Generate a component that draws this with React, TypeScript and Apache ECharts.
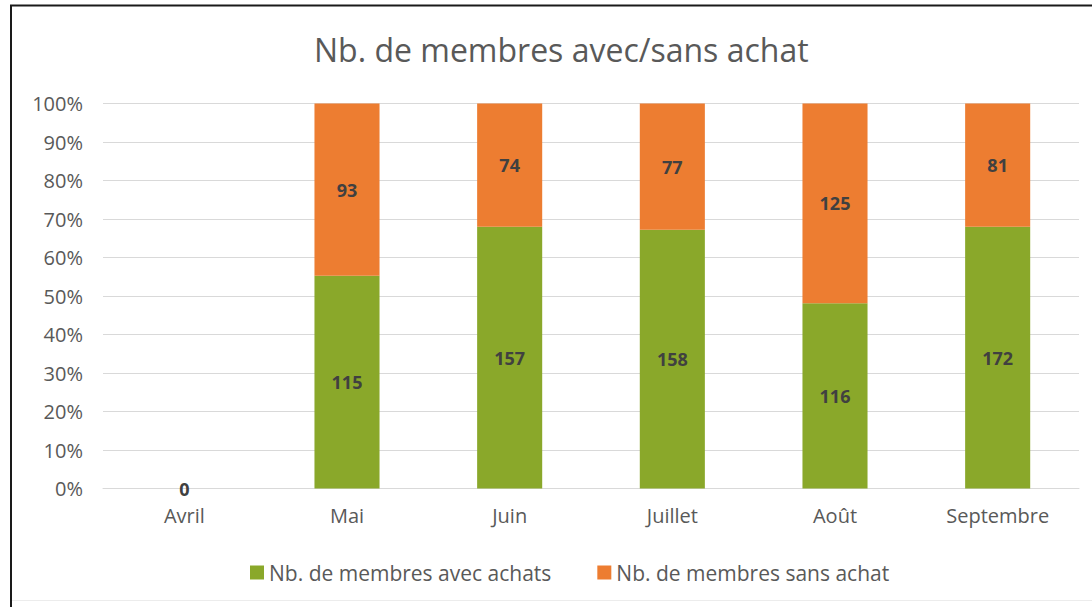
import React, { useEffect, useRef } from "react";
import * as echarts from "echarts";

const categories = ["Avril", "Mai", "Juin", "Juillet", "Août", "Septembre"];
const avecAchats = [0, 115, 157, 158, 116, 172];
const sansAchat = [0, 93, 74, 77, 125, 81];
const seriesNames = ["Nb. de membres avec achats", "Nb. de membres sans achat"];
const yTicks = [0, 10, 20, 30, 40, 50, 60, 70, 80, 90, 100];

const FONT = "'Open Sans', sans-serif";
const TEXT = "#595959";

export default function App() {
  const ref = useRef<HTMLDivElement>(null);
  useEffect(() => {
    document.body.style.margin = "0";
    if (!ref.current) return;
    const chart = echarts.init(ref.current, null, { renderer: "svg" });
    const totals = avecAchats.map((v, i) => v + sansAchat[i]);
    const pct = (arr: number[]) =>
      arr.map((v, i) => (totals[i] === 0 ? 0 : (v / totals[i]) * 100));
    const labelFor = (raw: number[], showZero: boolean) => ({
      show: true,
      position: "inside" as const,
      color: "#404040",
      fontWeight: "bold" as const,
      fontFamily: FONT,
      fontSize: 18,
      formatter: (p: any) => {
        const v = raw[p.dataIndex];
        if (v === 0 && !showZero) return "";
        return String(v);
      },
    });
    chart.setOption({
      animation: false,
      backgroundColor: "#ffffff",
      title: {
        text: "Nb. de membres avec/sans achat",
        left: 309,
        top: 28,
        textStyle: { fontFamily: FONT, fontSize: 32, fontWeight: "normal", color: TEXT },
      },
      legend: {
        bottom: 19,
        left: 245,
        itemWidth: 14,
        itemHeight: 14,
        itemGap: 46,
        itemTextGap: 4,
        icon: "rect",
        textStyle: { fontFamily: FONT, fontSize: 21, color: TEXT },
        data: seriesNames,
      },
      grid: { left: 103, right: 13, top: 103.5, bottom: 118.5, containLabel: false },
      xAxis: {
        type: "category",
        data: categories,
        axisLine: { lineStyle: { color: "#d9d9d9" } },
        axisTick: { show: false },
        axisLabel: { fontFamily: FONT, fontSize: 20, color: TEXT, margin: 17 },
      },
      yAxis: {
        type: "value",
        min: yTicks[0],
        max: yTicks[yTicks.length - 1],
        interval: 10,
        axisLine: { show: false },
        axisTick: { show: false },
        splitLine: { lineStyle: { color: "#d9d9d9" } },
        axisLabel: { fontFamily: FONT, fontSize: 20, color: TEXT, margin: 20, formatter: "{value}%" },
      },
      series: [
        {
          name: seriesNames[0],
          type: "bar",
          stack: "total",
          barWidth: "40%",
          itemStyle: { color: "#8aa82a" },
          label: labelFor(avecAchats, true),
          data: pct(avecAchats),
        },
        {
          name: seriesNames[1],
          type: "bar",
          stack: "total",
          barWidth: "40%",
          itemStyle: { color: "#ed7d31" },
          label: labelFor(sansAchat, false),
          data: pct(sansAchat),
        },
      ],
      graphic: [
        { type: "line", shape: { x1: 10, y1: 5.5, x2: 1092, y2: 5.5 }, style: { stroke: "#1a1a1a", lineWidth: 2 } },
        { type: "line", shape: { x1: 11, y1: 5, x2: 11, y2: 607 }, style: { stroke: "#1a1a1a", lineWidth: 2 } },
        { type: "line", shape: { x1: 12, y1: 600.5, x2: 1092, y2: 600.5 }, style: { stroke: "#ececec", lineWidth: 1 } },
      ],
    });
    return () => chart.dispose();
  }, []);
  return <div ref={ref} style={{ width: 1092, height: 607 }} />;
}
